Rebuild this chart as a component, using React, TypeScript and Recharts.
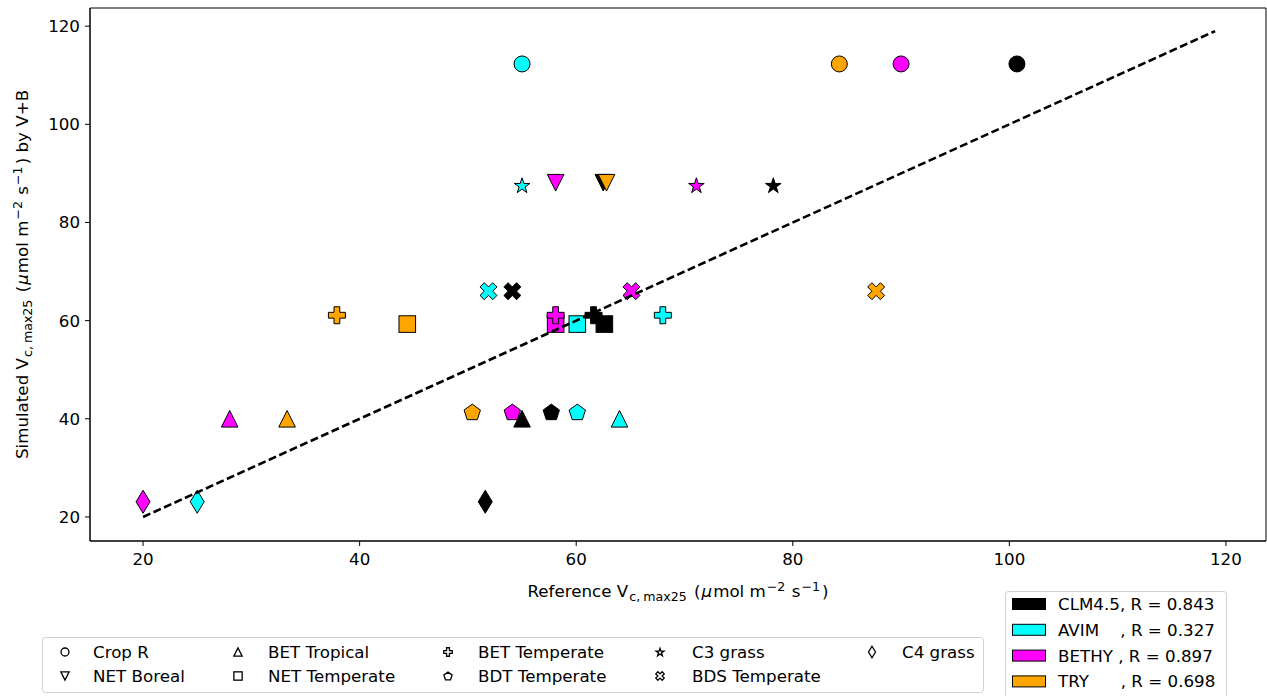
import { ScatterChart, Scatter, XAxis, YAxis, ReferenceArea } from 'recharts'

// plant functional types, in legend order (column-major)
const pfts = ['Crop R', 'NET Boreal', 'BET Tropical', 'NET Temperate', 'BET Temperate', 'BDT Temperate', 'C3 grass', 'BDS Temperate', 'C4 grass']
const pftShapes = ['circle', 'triDown', 'triUp', 'square', 'plus', 'pentagon', 'star', 'cross', 'thinDiamond']

// simulated Vcmax25 by V+B, one per PFT
const simulated = [112.3, 88.1, 40.0, 59.3, 61.1, 41.4, 87.6, 66.0, 23.1]

// reference Vcmax25 per model (null = not plotted)
const clmRef = [100.7, 62.5, 55.0, 62.6, 61.6, 57.7, 78.2, 54.1, 51.6]
const avimRef = [55.0, null, 64.0, 60.1, 68.0, 60.1, 55.0, 51.9, 25.0]
const bethyRef = [90.0, 58.1, 28.0, 58.1, 58.1, 54.1, 71.1, 65.1, 20.0]
const tryRef = [84.3, 62.8, 33.3, 44.4, 37.9, 50.4, null, 87.7, null]

const modelLabels = ['CLM4.5, R = 0.843', 'AVIM    , R = 0.327', 'BETHY , R = 0.897', 'TRY      , R = 0.698']
const modelColors = ['#000000', '#00ffff', '#ff00ff', '#ffa500']
const modelRefs = [clmRef, avimRef, bethyRef, tryRef]

const oneToOne = [20, 119]
const axisTicks = [20, 40, 60, 80, 100, 120]
const axisDomain: [number, number] = [15.1, 123.7]

const W = 1267
const H = 696
const FS = 16.7
const SUB = 12.6

function pts(list: number[][]) {
  return list.map(p => p[0].toFixed(2) + ',' + p[1].toFixed(2)).join(' ')
}

function Marker({ kind, cx, cy, fill, k = 1, sw = 1 }: { kind: string; cx: number; cy: number; fill: string; k?: number; sw?: number }) {
  const common = { fill, stroke: '#000', strokeWidth: sw, strokeLinejoin: 'miter' as const }
  if (kind === 'circle') return <circle cx={cx} cy={cy} r={8 * k} {...common} />
  if (kind === 'square') {
    const h = 8.3 * k
    return <rect x={cx - h} y={cy - h} width={2 * h} height={2 * h} {...common} />
  }
  if (kind === 'triUp' || kind === 'triDown') {
    const h = 8.3 * k
    const s = kind === 'triUp' ? 1 : -1
    return <polygon points={pts([[cx, cy - s * h], [cx - h, cy + s * h], [cx + h, cy + s * h]])} {...common} />
  }
  if (kind === 'pentagon' || kind === 'star') {
    const R = (kind === 'star' ? 8.2 : 8.6) * k
    const list: number[][] = []
    if (kind === 'pentagon') {
      for (let i = 0; i < 5; i++) {
        const a = -Math.PI / 2 + (i * 2 * Math.PI) / 5
        list.push([cx + R * Math.cos(a), cy + R * Math.sin(a) + 0.8 * k])
      }
    } else {
      const r = R * 0.382
      for (let i = 0; i < 10; i++) {
        const a = -Math.PI / 2 + (i * Math.PI) / 5
        const rr = i % 2 === 0 ? R : r
        list.push([cx + rr * Math.cos(a), cy + rr * Math.sin(a) + 0.8 * k])
      }
    }
    return <polygon points={pts(list)} {...common} />
  }
  if (kind === 'plus' || kind === 'cross') {
    const L = (kind === 'plus' ? 8.5 : 9) * k
    const w = (kind === 'plus' ? 2.9 : 3) * k
    const base = [[w, L], [w, w], [L, w], [L, -w], [w, -w], [w, -L], [-w, -L], [-w, -w], [-L, -w], [-L, w], [-w, w], [-w, L]]
    const a = kind === 'cross' ? Math.PI / 4 : 0
    const list = base.map(([x, y]) => [cx + x * Math.cos(a) - y * Math.sin(a), cy + x * Math.sin(a) + y * Math.cos(a)])
    return <polygon points={pts(list)} {...common} />
  }
  // thin diamond
  const hw = 7 * k
  const hh = 11.5 * k
  return <polygon points={pts([[cx, cy - hh], [cx + hw, cy], [cx, cy + hh], [cx - hw, cy]])} {...common} />
}

// mathtext-like label: V_{c, max25} (μmol m^{-2} s^{-1})
function UnitsText({ prefix, suffix }: { prefix: string; suffix: string }) {
  return (
    <>
      <tspan>{prefix} V</tspan>
      <tspan fontSize={SUB} dy={4} dx={1}>c,</tspan>
      <tspan fontSize={SUB} dx={3}>max25</tspan>
      <tspan dy={-4} dx={2}> (</tspan>
      <tspan fontStyle="italic" dx={1}>μ</tspan>
      <tspan dx={1}>mol m</tspan>
      <tspan fontSize={SUB} dy={-6.5} dx={1}>−2</tspan>
      <tspan dy={6.5} dx={1}> s</tspan>
      <tspan fontSize={SUB} dy={-6.5} dx={1}>−1</tspan>
      <tspan dy={6.5} dx={2}>){suffix}</tspan>
    </>
  )
}

function XTitle(props: any) {
  const vb = props.viewBox
  const cx = vb.x + vb.width / 2
  return (
    <text x={cx} y={597} textAnchor="middle" fontSize={FS} fill="#000">
      <UnitsText prefix="Reference" suffix="" />
    </text>
  )
}

function YTitle(props: any) {
  const vb = props.viewBox
  const cy = vb.y + vb.height / 2
  const x = 28
  return (
    <text x={x} y={cy} transform={`rotate(-90 ${x} ${cy})`} textAnchor="middle" fontSize={FS} fill="#000">
      <UnitsText prefix="Simulated" suffix=" by V+B" />
    </text>
  )
}

// shape legend layout
const shapeColX = [65, 238, 448, 660, 872]
const shapeTextX = [93, 268, 478, 692, 902]
const shapeRowY = [652, 676]

function Legends() {
  return (
    <svg width={W} height={H} style={{ position: 'absolute', left: 0, top: 0, pointerEvents: 'none' }}>
      <rect x={42.5} y={637.5} width={941} height={55} rx={3} fill="#fff" fillOpacity={0.8} stroke="#d0d0d0" />
      {pfts.map((p, i) => {
        const col = Math.floor(i / 2)
        const row = i % 2
        const y = shapeRowY[row]
        return (
          <g key={p}>
            <Marker kind={pftShapes[i]} cx={shapeColX[col]} cy={y} fill="#fff" k={0.5} sw={1.3} />
            <text x={shapeTextX[col]} y={y + 6} fontSize={FS} fill="#000">{p}</text>
          </g>
        )
      })}
      <rect x={1005.5} y={591.5} width={221} height={120} rx={3} fill="#fff" fillOpacity={0.8} stroke="#d0d0d0" />
      {modelLabels.map((m, i) => {
        const y = 604 + i * 25.8
        return (
          <g key={m}>
            <rect x={1012.5} y={y - 5.5} width={33} height={11} fill={modelColors[i]} stroke="#000" />
            <text x={1058} y={y + 6} fontSize={FS} fill="#000" style={{ whiteSpace: 'pre' }}>{m}</text>
          </g>
        )
      })}
    </svg>
  )
}

export default function App() {
  const series = modelRefs.map(ref =>
    pfts
      .map((p, i) => ({ pft: p, shape: pftShapes[i], x: ref[i], y: simulated[i] }))
      .filter(d => d.x !== null)
  )
  const lineData = oneToOne.map(v => ({ x: v, y: v }))
  return (
    <div style={{ position: 'absolute', left: 0, top: 0, width: W, height: H, fontFamily: 'DejaVu Sans', background: '#fff' }}>
      <ScatterChart width={W} height={H} margin={{ top: 8, right: 1, bottom: 125, left: 30 }}>
        <XAxis
          type="number"
          dataKey="x"
          domain={axisDomain}
          ticks={axisTicks}
          allowDataOverflow
          height={30}
          tickSize={5}
          tickMargin={7}
          axisLine={{ stroke: '#000' }}
          tickLine={{ stroke: '#000' }}
          tick={{ fill: '#000', fontSize: FS }}
          label={<XTitle />}
        />
        <YAxis
          type="number"
          dataKey="y"
          domain={axisDomain}
          ticks={axisTicks}
          allowDataOverflow
          width={60}
          tickSize={5}
          tickMargin={5}
          axisLine={{ stroke: '#000' }}
          tickLine={{ stroke: '#000' }}
          tick={{ fill: '#000', fontSize: FS }}
          label={<YTitle />}
        />
        <ReferenceArea x1={axisDomain[0]} x2={axisDomain[1]} y1={axisDomain[0]} y2={axisDomain[1]} fill="none" stroke="#000" strokeWidth={1} />
        {series.map((data, mi) => (
          <Scatter
            key={modelLabels[mi]}
            data={data}
            isAnimationActive={false}
            shape={(p: any) => <Marker kind={p.payload.shape} cx={p.cx} cy={p.cy} fill={modelColors[mi]} />}
          />
        ))}
        <Scatter
          data={lineData}
          isAnimationActive={false}
          line={{ stroke: '#000', strokeWidth: 2.6, strokeDasharray: '8 3.5' }}
          shape={() => <g />}
        />
      </ScatterChart>
      <Legends />
    </div>
  )
}
